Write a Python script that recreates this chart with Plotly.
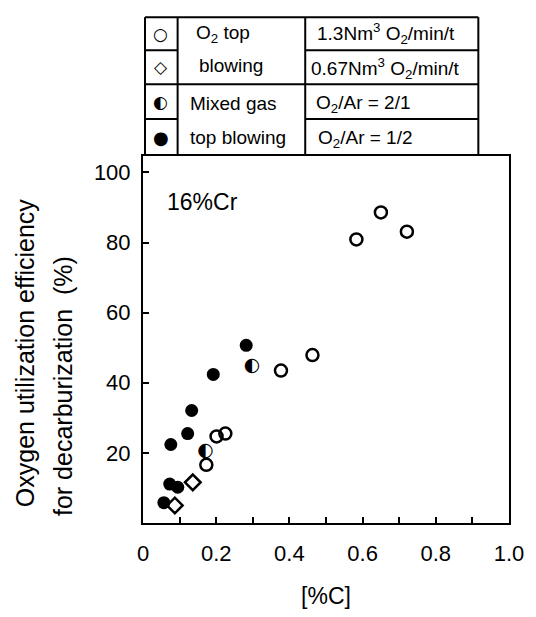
import plotly.graph_objects as go

# ---------------- data ----------------
o2_13_c = [0.583, 0.650, 0.721, 0.463, 0.377, 0.201, 0.225, 0.173]
o2_13_eff = [80.9, 88.6, 83.1, 47.9, 43.5, 24.7, 25.5, 16.6]

o2_067_c = [0.136, 0.087]
o2_067_eff = [11.6, 5.0]

mix21_c = [0.298, 0.171]
mix21_eff = [44.6, 20.5]

mix12_c = [0.282, 0.192, 0.133, 0.122, 0.076, 0.073, 0.095, 0.057]
mix12_eff = [50.7, 42.4, 32.1, 25.5, 22.4, 11.1, 10.2, 5.8]

x_tickvals = [0, 0.2, 0.4, 0.6, 0.8, 1.0]
x_ticktext = ["0", "0.2", "0.4", "0.6", "0.8", "1.0"]
y_tickvals = [20, 40, 60, 80, 100]
y_ticktext = ["20", "40", "60", "80", "100"]

FONT = "Liberation Sans, Arial, sans-serif"
SYM = "DejaVu Sans"

fig = go.Figure()
fig.add_trace(go.Scatter(x=o2_13_c, y=o2_13_eff, mode="markers",
                         marker=dict(symbol="circle-open", size=12, color="black",
                                     line=dict(width=2.5, color="black")),
                         showlegend=False))
fig.add_trace(go.Scatter(x=o2_067_c, y=o2_067_eff, mode="markers",
                         marker=dict(symbol="diamond-open", size=12, color="black",
                                     line=dict(width=2.5, color="black")),
                         showlegend=False))
fig.add_trace(go.Scatter(x=mix12_c, y=mix12_eff, mode="markers",
                         marker=dict(symbol="circle", size=13, color="black"),
                         showlegend=False))
fig.add_trace(go.Scatter(x=mix21_c, y=mix21_eff, mode="text",
                         text=["◐"] * len(mix21_c), textposition="middle center",
                         textfont=dict(family=SYM, size=19, color="black"),
                         showlegend=False))

W, H = 536, 617
L, R, T, B = 143, 23, 156, 83
pw = W - L - R
ph = H - T - B


def xp(px):
    return (px - L) / pw


def yp(py):
    return (H - B - py) / ph


shapes = []
line = dict(color="black", width=2)


def seg(x0, y0, x1, y1):
    shapes.append(dict(type="line", xref="paper", yref="paper",
                       x0=xp(x0), y0=yp(y0), x1=xp(x1), y1=yp(y1), line=line))


# legend table
tl, tr, tt, tb = 145, 482, 13, 156
c1, c2 = 178, 307
r1, r2, r3 = 47, 82, 118
seg(tl, tt, tr, tt)
seg(tl, tt, tl, tb)
seg(tr, tt, tr, tb)
seg(c1, tt, c1, tb)
seg(c2, tt, c2, tb)
seg(tl, r1, c1, r1)
seg(c2, r1, tr, r1)
seg(tl, r2, tr, r2)
seg(tl, r3, c1, r3)
seg(c2, r3, tr, r3)

annotations = []


def txt(x, y, s, size=19, family=FONT, xanchor="center"):
    annotations.append(dict(xref="paper", yref="paper", x=xp(x), y=yp(y), text=s,
                            showarrow=False, xanchor=xanchor, yanchor="middle",
                            font=dict(family=family, size=size, color="black")))


txt(161, 30, "○", size=17, family=SYM)
txt(161, 64, "◇", size=17, family=SYM)
txt(161, 100, "◐", size=17, family=SYM)
txt(161, 137, "●", size=18, family=SYM)
txt(195, 30, "O<sub>2</sub> top", xanchor="left")
txt(198, 63, "blowing", xanchor="left")
txt(188, 102, "Mixed gas", xanchor="left")
txt(188, 137, "top blowing", xanchor="left")
txt(317, 30, "1.3Nm<sup>3</sup> O<sub>2</sub>/min/t", xanchor="left")
txt(311, 66, "0.67Nm<sup>3</sup> O<sub>2</sub>/min/t", xanchor="left")
txt(316, 102, "O<sub>2</sub>/Ar = 2/1", xanchor="left")
txt(318, 139, "O<sub>2</sub>/Ar = 1/2", xanchor="left")

# in-plot label
txt(165, 203, "16%Cr", size=23, xanchor="left")

# y-axis title (two lines)
for (cx, y0, s) in [(24, 520, "Oxygen utilization efficiency"),
                    (62, 529, "for decarburization  (%)")]:
    annotations.append(dict(xref="paper", yref="paper", x=xp(cx), y=yp(y0), text=s,
                            showarrow=False, textangle=-90, xanchor="center",
                            yanchor="bottom",
                            font=dict(family=FONT, size=25, color="black")))

fig.update_layout(
    width=W, height=H,
    margin=dict(l=L, r=R, t=T, b=B),
    paper_bgcolor="white", plot_bgcolor="white",
    shapes=shapes, annotations=annotations,
    font=dict(family=FONT, color="black"),
)
fig.update_xaxes(range=[0, 1.0], showgrid=False, zeroline=False,
                 showline=True, linecolor="black", linewidth=2, mirror=True,
                 ticks="inside", ticklen=6, tickwidth=1.5, tickcolor="black",
                 tickvals=x_tickvals, ticktext=x_ticktext,
                 minor=dict(dtick=0.1, tick0=0, ticks="inside", ticklen=6,
                            tickwidth=1.5, tickcolor="black", showgrid=False),
                 tickfont=dict(family=FONT, size=22, color="black"),
                 ticklabelstandoff=10,
                 title=dict(text="[%C]", font=dict(family=FONT, size=23, color="black"),
                            standoff=22))
fig.update_yaxes(range=[0, 104.7], showgrid=False, zeroline=False,
                 showline=True, linecolor="black", linewidth=2, mirror=True,
                 ticks="inside", ticklen=6, tickwidth=1.5, tickcolor="black",
                 tickvals=y_tickvals, ticktext=y_ticktext,
                 tickfont=dict(family=FONT, size=22, color="black"),
                 ticklabelstandoff=6)

fig.write_html("out.html")
